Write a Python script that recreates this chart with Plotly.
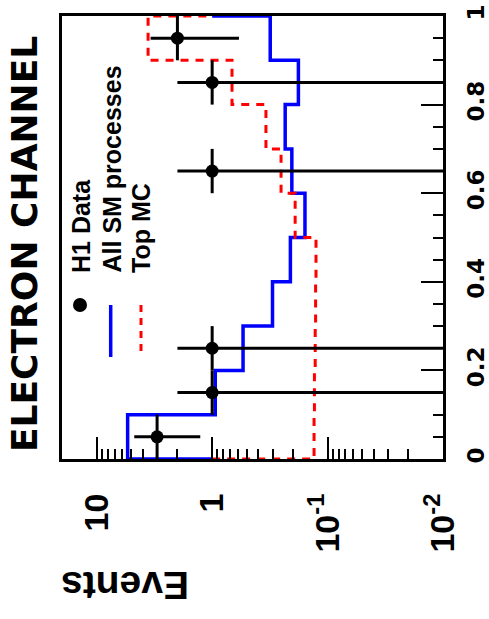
import math
import numpy as np
import plotly.graph_objects as go

# ---------------- data ----------------
bin_low = [0.0, 0.1, 0.2, 0.3, 0.4, 0.5, 0.6, 0.7, 0.8, 0.9]
bin_width = 0.1
sm_values = [5.4, 0.94, 0.54, 0.30, 0.21, 0.157, 0.204, 0.233, 0.179, 0.314]
top_values = [0.131, 0.130, 0.128, 0.127, 0.126, 0.191, 0.253, 0.342, 0.673, 3.59]
data_pos = [0.05, 0.15, 0.25, 0.65, 0.85, 0.95]
data_events = [3, 1, 1, 1, 1, 2]
events_min, events_max = 0.01, 20.0
baseline = 1.0
events_tick_vals = [10, 1, 0.1, 0.01]
events_tick_text = ["10", "1", "10<sup>-1</sup>", "10<sup>-2</sup>"]
legend_labels = ["H1 Data", "All SM processes", "Top MC"]
title_text = "ELECTRON CHANNEL"
axis_title = "Events"

# ---------------- layout geometry (pixels) ----------------
W, H = 489, 619
L, R, T, B = 62, 443, 16, 459


def px(x):
    return (x - L) / (R - L)


def py(y):
    return (B - y) / (B - T)


def step_xy(values):
    xs = [baseline] + list(values) + [baseline]
    ys = [bin_low[0]] + list(bin_low) + [bin_low[-1] + bin_width]
    return xs, ys


fig = go.Figure()

sx, sy = step_xy(sm_values)
fig.add_trace(go.Scatter(x=sx, y=sy, mode="lines", line_shape="vh",
                         line=dict(color="rgb(0,0,255)", width=3.5),
                         showlegend=False, hoverinfo="skip"))

tx, ty = step_xy(top_values)
fig.add_trace(go.Scatter(x=tx, y=ty, mode="lines", line_shape="vh",
                         line=dict(color="rgb(255,0,0)", width=3, dash="8px,7px"),
                         showlegend=False, hoverinfo="skip"))

n = np.array(data_events, dtype=float)
err = np.sqrt(n)
err_minus = np.minimum(err, n - events_min)
fig.add_trace(go.Scatter(
    x=data_events, y=data_pos, mode="markers",
    marker=dict(size=13, color="black"),
    error_x=dict(type="data", array=err, arrayminus=err_minus,
                 thickness=3, width=0, color="black"),
    error_y=dict(type="constant", value=bin_width / 2,
                 thickness=3, width=0, color="black"),
    showlegend=False, hoverinfo="skip"))

# ---------------- annotations ----------------
bold = dict(family="Liberation Sans, Arial, sans-serif", color="black", weight="bold")
ann = []
ann.append(dict(x=px(125), y=py(586), xref="paper", yref="paper", text=axis_title,
                showarrow=False, textangle=180, xanchor="center", yanchor="middle",
                font=dict(size=39, **bold)))

ann.append(dict(x=px(24), y=py(244), xref="paper", yref="paper", text=title_text,
                showarrow=False, textangle=-90, xanchor="center", yanchor="middle",
                font=dict(size=36, family="DejaVu Sans", color="black", weight="bold")))

for lab, cx in zip(legend_labels, [81, 111, 141]):
    ann.append(dict(x=px(cx), y=py(275), xref="paper", yref="paper", text=lab,
                    showarrow=False, textangle=-90, xanchor="center", yanchor="bottom",
                    font=dict(size=25, **bold)))

shapes = [
    dict(type="circle", xref="paper", yref="paper",
         x0=px(73), x1=px(87), y0=py(312), y1=py(298),
         fillcolor="black", line=dict(color="black", width=0)),
    dict(type="line", xref="paper", yref="paper",
         x0=px(110.7), x1=px(110.7), y0=py(305), y1=py(357),
         line=dict(color="rgb(0,0,255)", width=3.5)),
    dict(type="line", xref="paper", yref="paper",
         x0=px(141), x1=px(141), y0=py(305), y1=py(357),
         line=dict(color="rgb(255,0,0)", width=3, dash="7px,6px")),
]

fig.update_layout(
    width=W, height=H,
    margin=dict(l=L, r=W - R, t=T, b=H - B, pad=0, autoexpand=False),
    paper_bgcolor="white", plot_bgcolor="white",
    showlegend=False,
    annotations=ann, shapes=shapes,
    xaxis=dict(type="log", range=[math.log10(events_max), math.log10(events_min)],
               tickmode="array", tickvals=events_tick_vals, ticktext=events_tick_text,
               ticks="inside", ticklen=22, tickwidth=2, tickcolor="black",
               tickangle=-90, ticklabelstandoff=18, automargin=False,
               tickfont=dict(size=34, **bold),
               showgrid=False, zeroline=False,
               showline=True, linewidth=3, linecolor="black", mirror=True,
               minor=dict(ticks="inside", ticklen=10, tickwidth=2, tickcolor="black",
                          dtick="D1", showgrid=False)),
    yaxis=dict(range=[0, 1], side="right", dtick=0.2, automargin=False,
               ticks="inside", ticklen=22, tickwidth=2, tickcolor="black",
               tickangle=-90, ticklabelstandoff=10,
               tickfont=dict(family="DejaVu Sans", size=23, color="black", weight="bold"),
               showgrid=False, zeroline=False,
               showline=True, linewidth=3, linecolor="black", mirror=True,
               minor=dict(ticks="inside", ticklen=10, tickwidth=2, tickcolor="black",
                          dtick=0.05, showgrid=False)),
)

fig.write_html(
    "out.html",
    config={"displayModeBar": False, "staticPlot": True},
    post_script="document.body.style.margin='0';document.body.style.overflow='hidden';",
)
